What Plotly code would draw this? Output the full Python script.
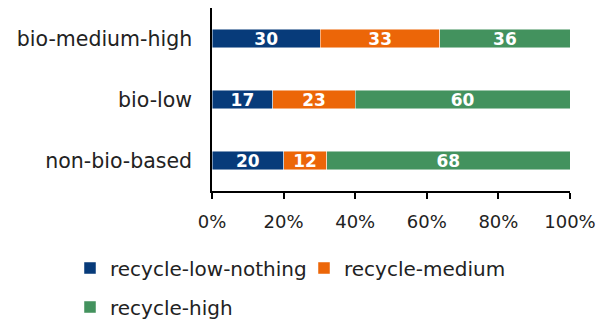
import plotly.graph_objects as go

categories = ["non-bio-based", "bio-low", "bio-medium-high"]
series_names = ["recycle-low-nothing", "recycle-medium", "recycle-high"]
low_nothing = [20, 17, 30]
medium = [12, 23, 33]
high = [68, 60, 36]
tick_vals = [0, 20, 40, 60, 80, 100]
tick_text = ["0%", "20%", "40%", "60%", "80%", "100%"]

colors = ["#073B7A", "#EC6608", "#43925E"]
FONT = "DejaVu Sans"
TXT = "#222"

fig = go.Figure()
for name, vals, col, lg in zip(series_names, [low_nothing, medium, high], colors,
                               ["legend", "legend2", "legend3"]):
    fig.add_trace(go.Bar(
        y=categories, x=vals, name=name, orientation="h",
        marker=dict(color=col, line=dict(color="rgba(255,255,255,0.6)", width=0.8)),
        text=[str(v) for v in vals], textposition="inside",
        insidetextanchor="middle", constraintext="none",
        textfont=dict(family=FONT, size=17, color="white", weight="bold"),
        legend=lg,
    ))

# one legend box per entry: two entries on the first row, one on the second
legend_common = dict(orientation="h", xref="container", xanchor="left",
                     yref="container", yanchor="middle",
                     font=dict(size=20, color=TXT), itemwidth=30,
                     bgcolor="rgba(0,0,0,0)")

fig.update_layout(
    width=608, height=322,
    margin=dict(l=212, r=38, t=8, b=131),
    barmode="stack", barnorm="percent", bargap=0.69,
    plot_bgcolor="white", paper_bgcolor="white",
    font=dict(family=FONT, size=17, color=TXT),
    showlegend=True,
    legend=dict(legend_common, x=70 / 608, y=1 - 268 / 322),
    legend2=dict(legend_common, x=304 / 608, y=1 - 268 / 322),
    legend3=dict(legend_common, x=70 / 608, y=1 - 307 / 322),
)
fig.update_xaxes(range=[0, 100], tickvals=tick_vals, ticktext=tick_text,
                 showgrid=False, zeroline=False, showline=True, linecolor="black",
                 linewidth=1.5, ticks="outside", ticklen=6, tickwidth=1.5,
                 tickcolor="black", ticklabelstandoff=8,
                 tickfont=dict(size=18, color=TXT))
fig.update_yaxes(categoryorder="array", categoryarray=categories,
                 showgrid=False, zeroline=False, showline=True, linecolor="black",
                 linewidth=1.5, ticks="", ticklabelstandoff=14,
                 tickfont=dict(size=20.5, color=TXT))

fig.write_html("out.html")
